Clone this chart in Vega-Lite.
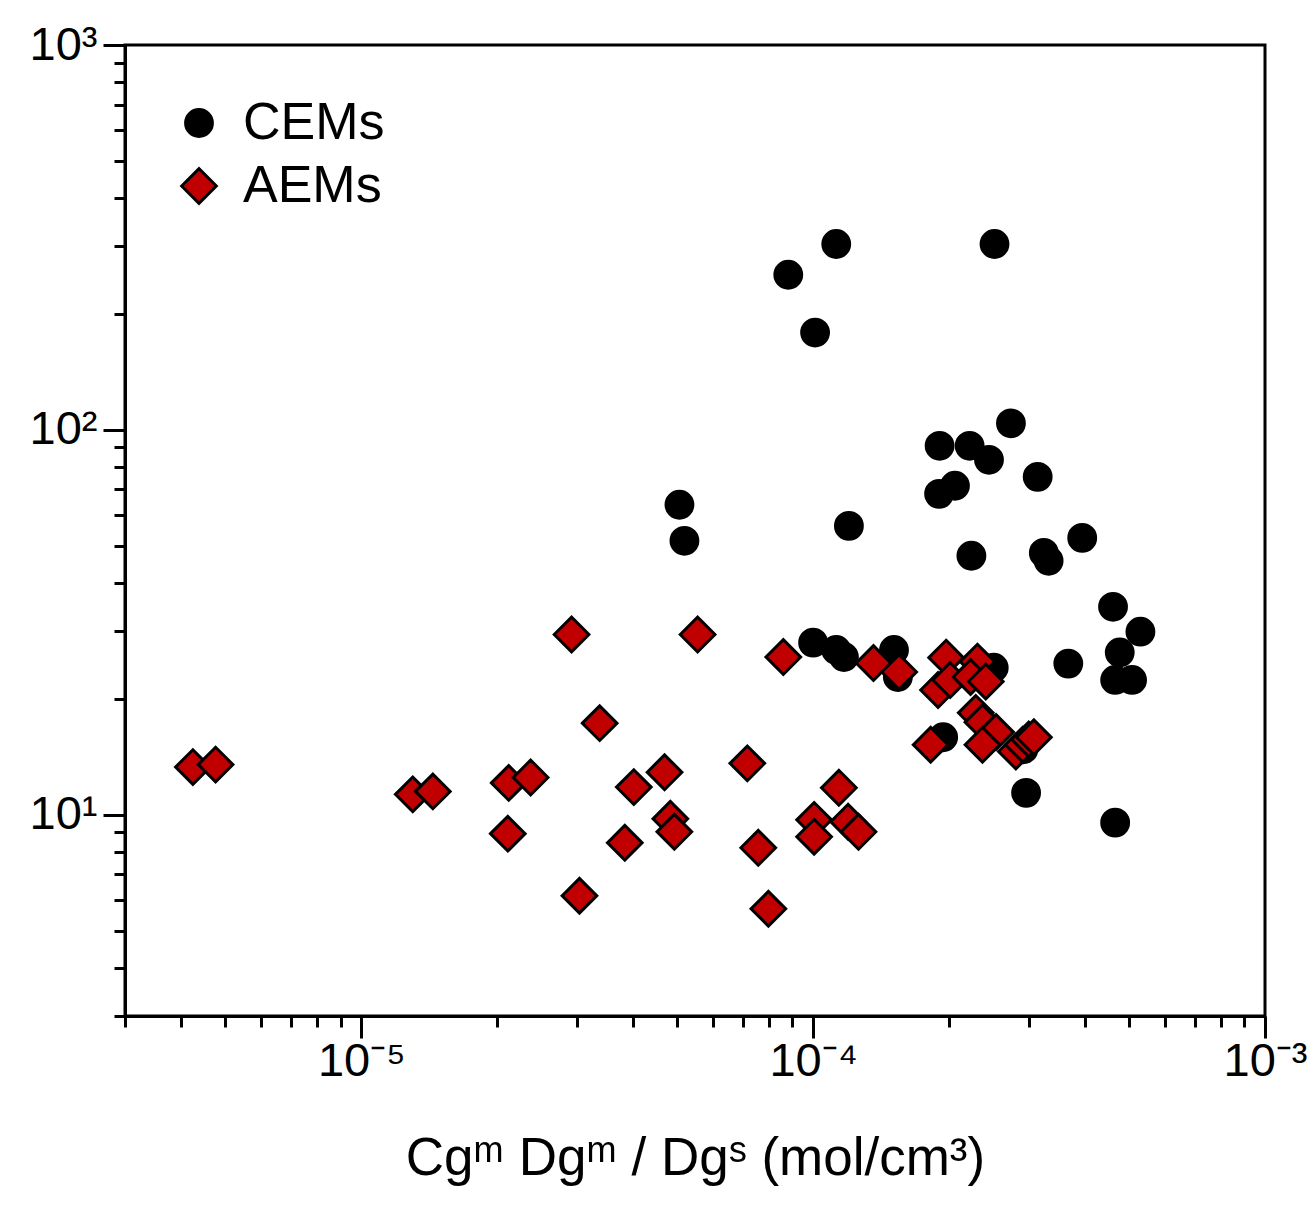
{
  "$schema": "https://vega.github.io/schema/vega-lite/v6.json",
  "width": 1140,
  "height": 971,
  "autosize": "none",
  "padding": {"left": 125, "top": 45, "right": 48, "bottom": 194},
  "background": "white",
  "config": {
    "view": {"stroke": "black", "strokeWidth": 3},
    "axis": {"grid": false, "labelFont": "Liberation Sans", "titleFont": "Liberation Sans", "labelColor": "black", "titleColor": "black", "tickColor": "black", "domainColor": "black"}
  },
  "data": {
    "values": [
      {"x": 8.81e-5, "y": 253, "type": "CEMs"},
      {"x": 1.125e-4, "y": 304, "type": "CEMs"},
      {"x": 2.52e-4, "y": 304, "type": "CEMs"},
      {"x": 1.01e-4, "y": 179, "type": "CEMs"},
      {"x": 2.74e-4, "y": 104, "type": "CEMs"},
      {"x": 1.905e-4, "y": 90.9, "type": "CEMs"},
      {"x": 2.22e-4, "y": 90.9, "type": "CEMs"},
      {"x": 2.45e-4, "y": 83.6, "type": "CEMs"},
      {"x": 1.90e-4, "y": 68.2, "type": "CEMs"},
      {"x": 2.06e-4, "y": 71.6, "type": "CEMs"},
      {"x": 3.14e-4, "y": 75.5, "type": "CEMs"},
      {"x": 5.06e-5, "y": 63.9, "type": "CEMs"},
      {"x": 5.19e-5, "y": 51.5, "type": "CEMs"},
      {"x": 1.20e-4, "y": 56.3, "type": "CEMs"},
      {"x": 2.24e-4, "y": 47.1, "type": "CEMs"},
      {"x": 3.24e-4, "y": 47.9, "type": "CEMs"},
      {"x": 3.32e-4, "y": 45.7, "type": "CEMs"},
      {"x": 3.94e-4, "y": 52.4, "type": "CEMs"},
      {"x": 4.61e-4, "y": 34.7, "type": "CEMs"},
      {"x": 5.30e-4, "y": 29.9, "type": "CEMs"},
      {"x": 4.77e-4, "y": 26.4, "type": "CEMs"},
      {"x": 3.67e-4, "y": 24.7, "type": "CEMs"},
      {"x": 4.66e-4, "y": 22.4, "type": "CEMs"},
      {"x": 5.08e-4, "y": 22.4, "type": "CEMs"},
      {"x": 1.0e-4, "y": 28.0, "type": "CEMs"},
      {"x": 1.125e-4, "y": 26.8, "type": "CEMs"},
      {"x": 1.17e-4, "y": 25.7, "type": "CEMs"},
      {"x": 1.51e-4, "y": 26.8, "type": "CEMs"},
      {"x": 1.54e-4, "y": 22.8, "type": "CEMs"},
      {"x": 2.51e-4, "y": 24.1, "type": "CEMs"},
      {"x": 1.94e-4, "y": 15.9, "type": "CEMs"},
      {"x": 2.92e-4, "y": 14.8, "type": "CEMs"},
      {"x": 2.96e-4, "y": 11.4, "type": "CEMs"},
      {"x": 4.66e-4, "y": 9.54, "type": "CEMs"},
      {"x": 4.24e-6, "y": 13.3, "type": "AEMs"},
      {"x": 4.76e-6, "y": 13.5, "type": "AEMs"},
      {"x": 1.30e-5, "y": 11.3, "type": "AEMs"},
      {"x": 1.44e-5, "y": 11.5, "type": "AEMs"},
      {"x": 2.12e-5, "y": 12.1, "type": "AEMs"},
      {"x": 2.37e-5, "y": 12.5, "type": "AEMs"},
      {"x": 2.11e-5, "y": 8.93, "type": "AEMs"},
      {"x": 2.92e-5, "y": 29.4, "type": "AEMs"},
      {"x": 3.37e-5, "y": 17.3, "type": "AEMs"},
      {"x": 3.04e-5, "y": 6.16, "type": "AEMs"},
      {"x": 5.55e-5, "y": 29.4, "type": "AEMs"},
      {"x": 8.59e-5, "y": 25.7, "type": "AEMs"},
      {"x": 4.01e-5, "y": 11.8, "type": "AEMs"},
      {"x": 4.69e-5, "y": 12.9, "type": "AEMs"},
      {"x": 7.15e-5, "y": 13.6, "type": "AEMs"},
      {"x": 4.83e-5, "y": 9.76, "type": "AEMs"},
      {"x": 4.93e-5, "y": 9.03, "type": "AEMs"},
      {"x": 3.83e-5, "y": 8.46, "type": "AEMs"},
      {"x": 7.56e-5, "y": 8.21, "type": "AEMs"},
      {"x": 7.96e-5, "y": 5.70, "type": "AEMs"},
      {"x": 1.14e-4, "y": 11.75, "type": "AEMs"},
      {"x": 1.005e-4, "y": 9.70, "type": "AEMs"},
      {"x": 1.005e-4, "y": 8.77, "type": "AEMs"},
      {"x": 1.195e-4, "y": 9.59, "type": "AEMs"},
      {"x": 1.26e-4, "y": 9.03, "type": "AEMs"},
      {"x": 1.36e-4, "y": 24.8, "type": "AEMs"},
      {"x": 1.55e-4, "y": 23.5, "type": "AEMs"},
      {"x": 1.97e-4, "y": 25.6, "type": "AEMs"},
      {"x": 1.89e-4, "y": 21.1, "type": "AEMs"},
      {"x": 2.01e-4, "y": 22.4, "type": "AEMs"},
      {"x": 2.31e-4, "y": 25.0, "type": "AEMs"},
      {"x": 2.23e-4, "y": 22.8, "type": "AEMs"},
      {"x": 2.41e-4, "y": 22.2, "type": "AEMs"},
      {"x": 2.29e-4, "y": 18.4, "type": "AEMs"},
      {"x": 2.37e-4, "y": 17.4, "type": "AEMs"},
      {"x": 2.54e-4, "y": 16.4, "type": "AEMs"},
      {"x": 1.82e-4, "y": 15.2, "type": "AEMs"},
      {"x": 2.37e-4, "y": 15.2, "type": "AEMs"},
      {"x": 2.81e-4, "y": 14.6, "type": "AEMs"},
      {"x": 2.91e-4, "y": 15.2, "type": "AEMs"},
      {"x": 3.00e-4, "y": 15.7, "type": "AEMs"},
      {"x": 3.08e-4, "y": 15.9, "type": "AEMs"}
    ]
  },
  "resolve": {"axis": {"x": "independent", "y": "independent"}},
  "layer": [
    {
      "mark": {"type": "point", "opacity": 0},
      "encoding": {
        "x": {"field": "x", "type": "quantitative",
          "scale": {"type": "log", "domain": [3e-6, 1e-3], "nice": false},
          "axis": {"orient": "bottom", "values": [3e-6, 4e-6, 5e-6, 6e-6, 7e-6, 8e-6, 9e-6, 2e-5, 3e-5, 4e-5, 5e-5, 6e-5, 7e-5, 8e-5, 9e-5, 2e-4, 3e-4, 4e-4, 5e-4, 6e-4, 7e-4, 8e-4, 9e-4],
            "labels": false, "domain": false, "title": null, "tickSize": 11, "tickWidth": 3}},
        "y": {"field": "y", "type": "quantitative",
          "scale": {"type": "log", "domain": [3, 1000], "nice": false},
          "axis": {"orient": "left", "values": [3, 4, 5, 6, 7, 8, 9, 20, 30, 40, 50, 60, 70, 80, 90, 200, 300, 400, 500, 600, 700, 800, 900],
            "labels": false, "domain": false, "title": null, "tickSize": 11, "tickWidth": 3}}
      }
    },
    {
      "mark": {"type": "point", "filled": true, "stroke": "black", "strokeWidth": 3, "opacity": 1},
      "encoding": {
        "x": {"field": "x", "type": "quantitative",
          "axis": {"orient": "bottom", "values": [1e-5, 1e-4, 1e-3],
            "labelExpr": "datum.value < 3e-5 ? '10⁻⁵' : datum.value < 3e-4 ? '10⁻⁴' : '10⁻³'",
            "labelFontSize": 47, "labelPadding": 0, "tickSize": 22, "tickWidth": 3,
            "domainWidth": 3, "labelFlush": false, "labelOverlap": false,
            "title": "Cgᵐ Dgᵐ / Dgˢ (mol/cm³)", "titleFontSize": 53, "titleFontWeight": "normal", "titlePadding": 48}},
        "y": {"field": "y", "type": "quantitative",
          "axis": {"orient": "left", "values": [10, 100, 1000],
            "labelExpr": "datum.value < 50 ? '10¹' : datum.value < 500 ? '10²' : '10³'",
            "labelFontSize": 47, "labelPadding": 6, "tickSize": 22, "tickWidth": 3,
            "domainWidth": 3, "labelOverlap": false, "title": null}},
        "shape": {"field": "type", "type": "nominal",
          "scale": {"domain": ["CEMs", "AEMs"], "range": ["circle", "diamond"]},
          "legend": {"orient": "none", "legendX": 48, "legendY": 52, "title": null,
            "labelFontSize": 52, "labelFont": "Liberation Sans", "labelColor": "black",
            "rowPadding": 11, "labelOffset": 18, "symbolStrokeColor": "black", "symbolStrokeWidth": 3}},
        "fill": {"field": "type", "type": "nominal",
          "scale": {"domain": ["CEMs", "AEMs"], "range": ["#000000", "#c00000"]}},
        "size": {"field": "type", "type": "nominal",
          "scale": {"domain": ["CEMs", "AEMs"], "range": [720, 1200]}}
      }
    }
  ]
}
